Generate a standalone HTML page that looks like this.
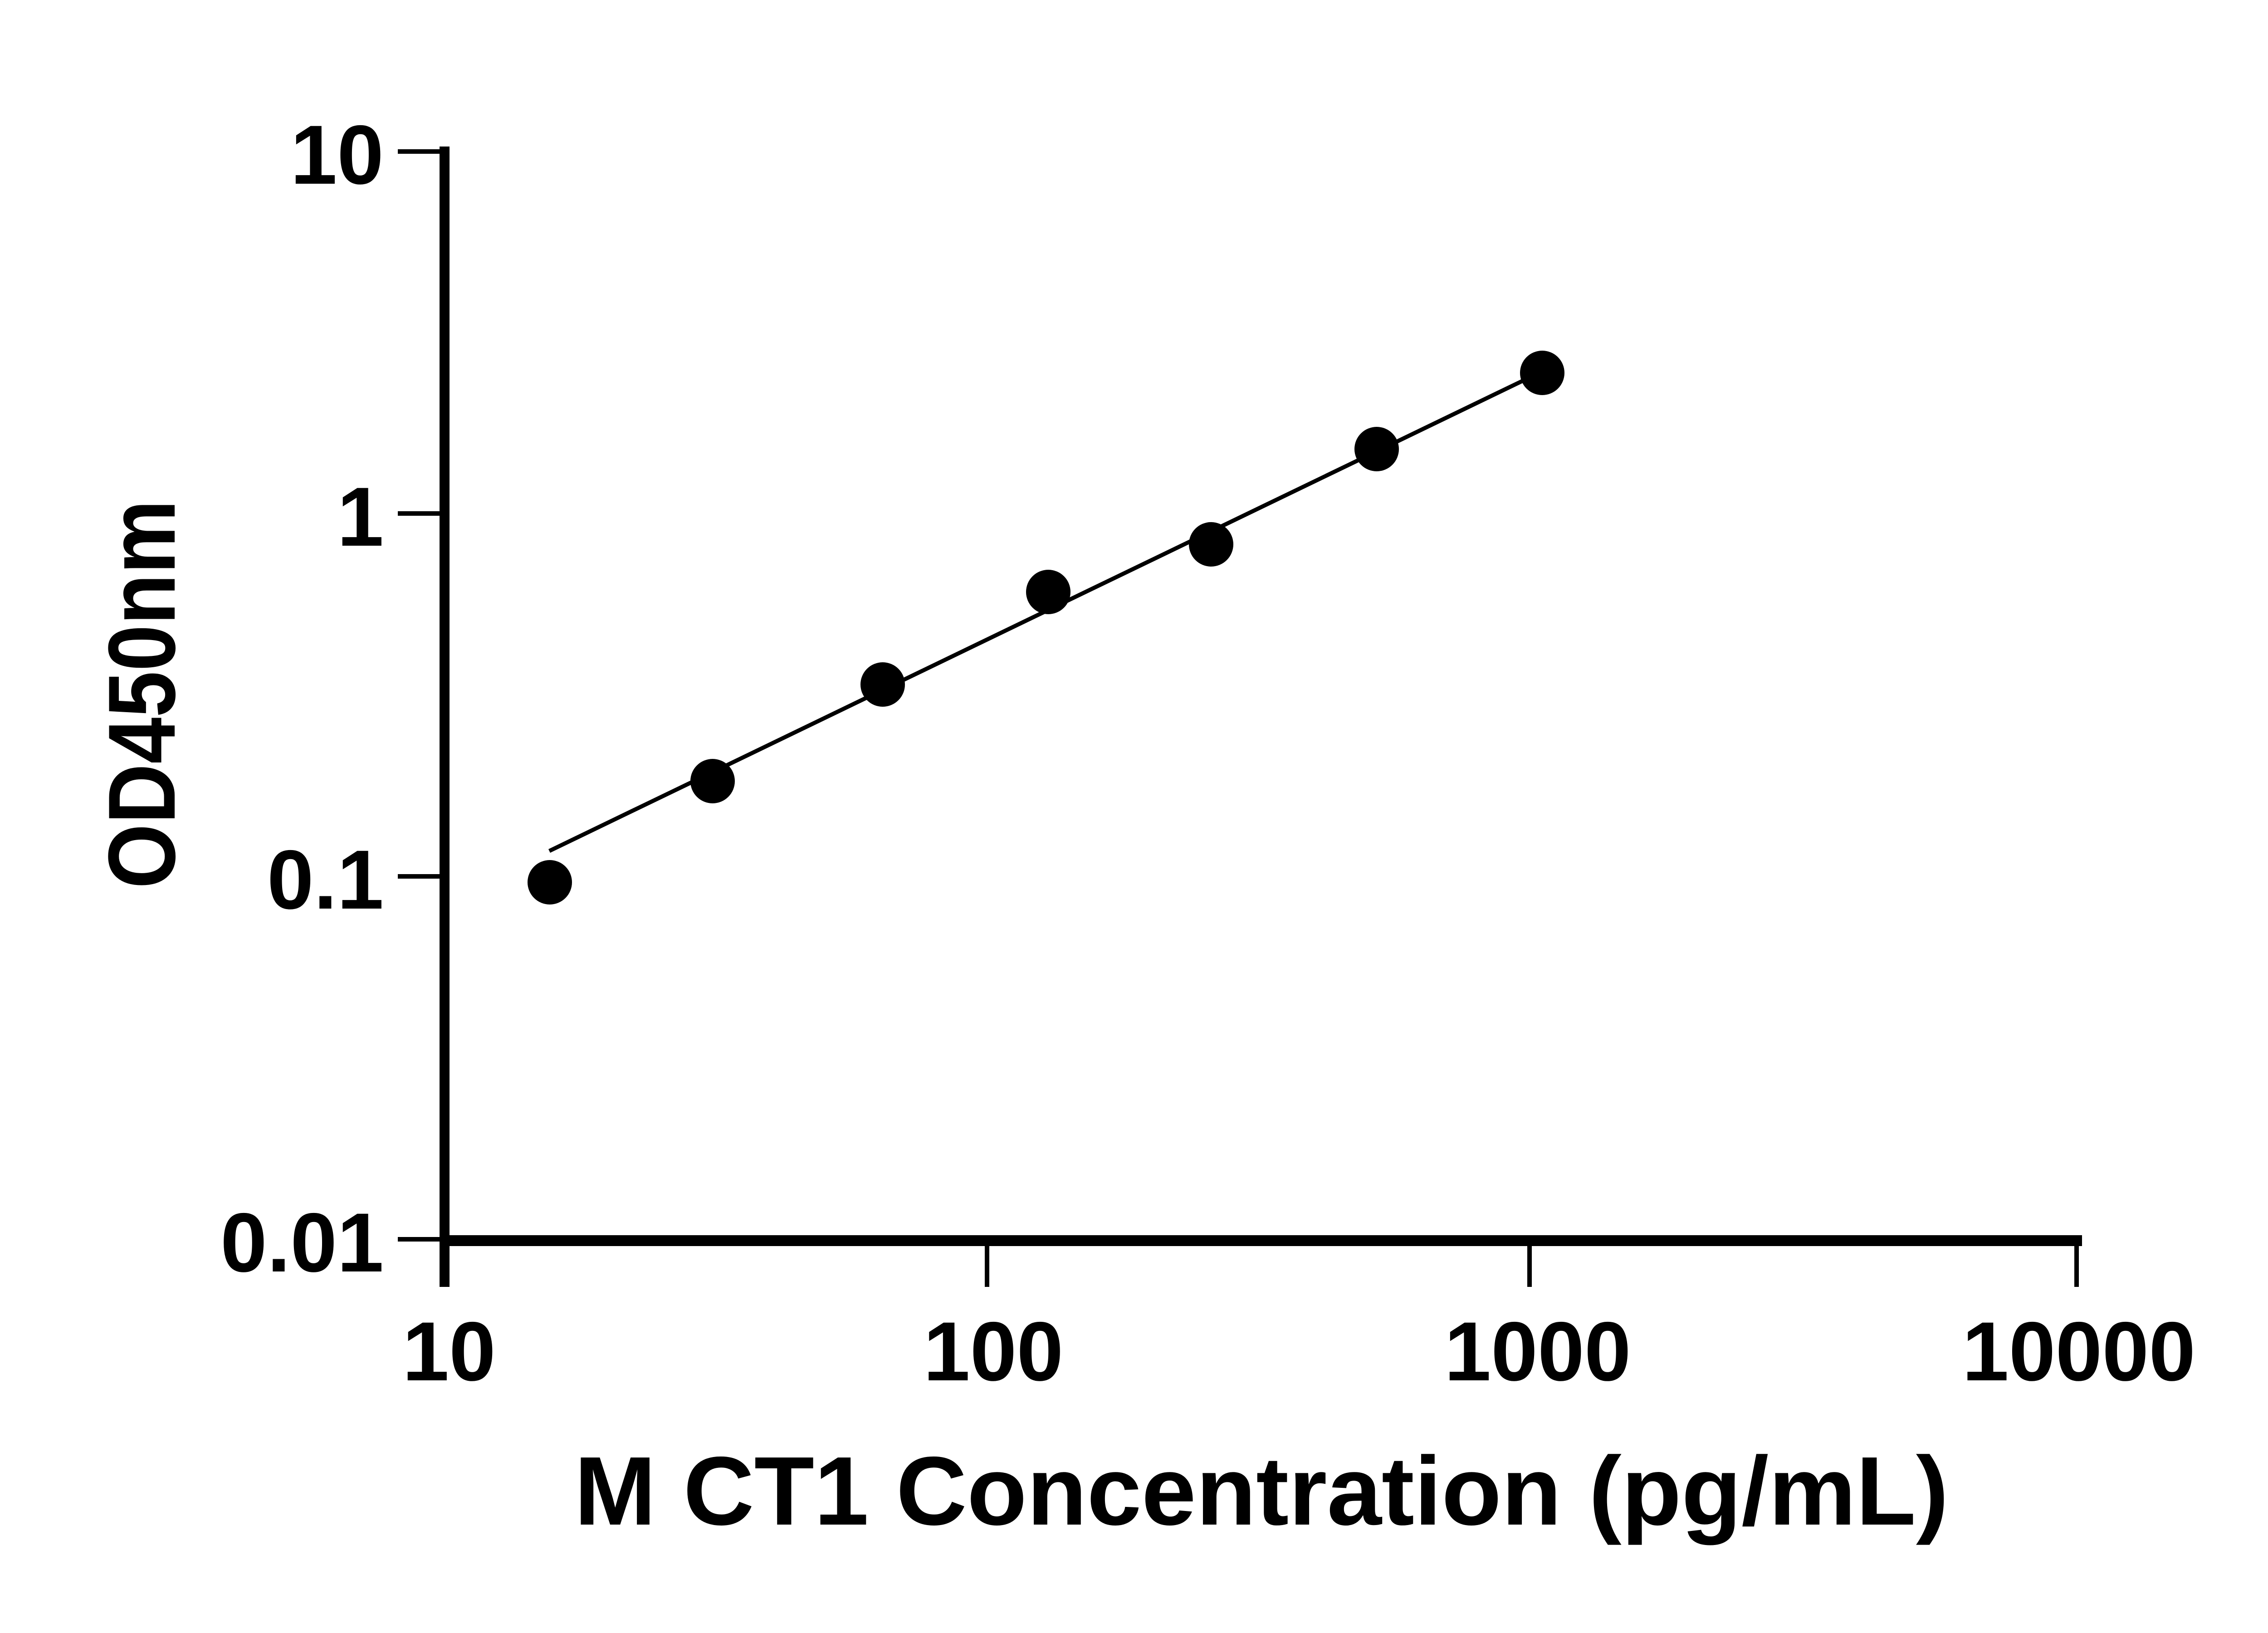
<!DOCTYPE html>
<html><head><meta charset="utf-8"><style>html,body{margin:0;padding:0;background:#fff}svg{display:block}</style></head>
<body>
<svg width="5130" height="3600" viewBox="0 0 5130 3600" xmlns="http://www.w3.org/2000/svg">
<g stroke="#000" fill="none" stroke-linecap="butt">
<line x1="980" y1="323" x2="980" y2="2837" stroke-width="22"/>
<line x1="969" y1="2735" x2="4590" y2="2735" stroke-width="24"/>
<g stroke-width="10">
<line x1="877" y1="334" x2="980" y2="334"/>
<line x1="877" y1="1132" x2="980" y2="1132"/>
<line x1="877" y1="1932" x2="980" y2="1932"/>
<line x1="877" y1="2732" x2="980" y2="2732"/>
<line x1="978" y1="2735" x2="978" y2="2837"/>
<line x1="2176" y1="2735" x2="2176" y2="2837"/>
<line x1="3372" y1="2735" x2="3372" y2="2837"/>
<line x1="4578" y1="2735" x2="4578" y2="2837"/>
</g>
<line x1="1211" y1="1876" x2="3360" y2="838" stroke-width="9"/>
</g>
<g fill="#000">
<circle cx="1212" cy="1945" r="49"/>
<circle cx="1571" cy="1722" r="49"/>
<circle cx="1946" cy="1509" r="49"/>
<circle cx="2311" cy="1305" r="49"/>
<circle cx="2670" cy="1200" r="49"/>
<circle cx="3035" cy="990" r="49"/>
<circle cx="3400" cy="822" r="49"/>
</g>
<g font-family="Liberation Sans, sans-serif" font-weight="bold" font-size="185" fill="#000">
<text x="846" y="405" text-anchor="end">10</text>
<text x="846" y="1203" text-anchor="end">1</text>
<text x="846" y="2003" text-anchor="end">0.1</text>
<text x="846" y="2803" text-anchor="end">0.01</text>
<text x="990" y="3043" text-anchor="middle">10</text>
<text x="2190" y="3043" text-anchor="middle">100</text>
<text x="3390" y="3043" text-anchor="middle">1000</text>
<text x="4583" y="3043" text-anchor="middle">10000</text>
</g>
<text x="1266" y="3361" font-family="Liberation Sans, sans-serif" font-weight="bold" font-size="215" textLength="3030" lengthAdjust="spacingAndGlyphs">M CT1 Concentration (pg/mL)</text>
<text transform="translate(385,1959) rotate(-90)" font-family="Liberation Sans, sans-serif" font-weight="bold" font-size="210" textLength="857" lengthAdjust="spacingAndGlyphs">OD450nm</text>
</svg>
</body></html>
